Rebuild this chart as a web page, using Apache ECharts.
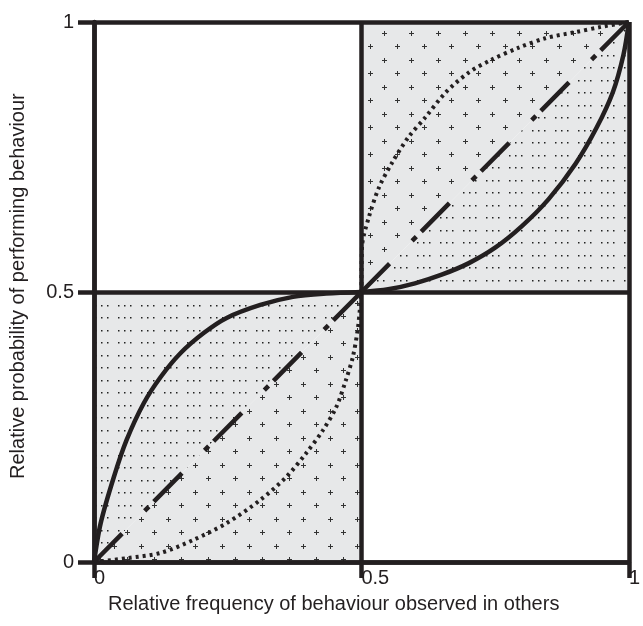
<!DOCTYPE html>
<html><head><meta charset="utf-8">
<script src="https://cdn.jsdelivr.net/npm/echarts@6/dist/echarts.min.js"></script>
<style>html,body{margin:0;padding:0;background:#fff}#c{width:643px;height:626px}</style>
</head><body><div id="c"></div>
<script>
// ---- data ----
const xTickValues = [0, 0.5, 1];
const xTickLabels = ['0', '0.5', '1'];
const yTickValues = [0, 0.5, 1];
const yTickLabels = ['0', '0.5', '1'];
const xTitle = 'Relative frequency of behaviour observed in others';
const yTitle = 'Relative probability of performing behaviour';

const solidLower = [[0,0],[0.0125,0.072],[0.037,0.157],[0.061,0.226],[0.093,0.294],[0.125,0.343],[0.162,0.387],[0.205,0.424],[0.248,0.452],[0.311,0.476],[0.372,0.491],[0.434,0.497],[0.5,0.5]];
const solidUpper = [[0.5,0.5],[0.55,0.505],[0.6,0.516],[0.65,0.532],[0.7,0.553],[0.75,0.582],[0.8,0.622],[0.85,0.672],[0.9,0.737],[0.94,0.805],[0.97,0.870],[0.99,0.94],[1,1]];
const dottedLower = [[0,0],[0.061,0.007],[0.125,0.017],[0.186,0.041],[0.248,0.072],[0.311,0.115],[0.359,0.157],[0.397,0.202],[0.428,0.244],[0.453,0.287],[0.471,0.337],[0.484,0.380],[0.493,0.430],[0.497,0.467],[0.5,0.5]];
const dottedUpper = [[0.5,0.5],[0.501,0.583],[0.514,0.639],[0.533,0.694],[0.557,0.739],[0.588,0.787],[0.620,0.824],[0.657,0.869],[0.700,0.906],[0.743,0.930],[0.793,0.952],[0.844,0.970],[0.899,0.981],[0.948,0.991],[1,1]];
const diagLower = [[0,0],[0.5,0.5]];
const diagUpper = [[0.5,0.5],[1,1]];
// shaded triangles (x1,y1,x2,y2,x3,y3)
const dotRegions = [[0,0, 0,0.5, 0.5,0.5],[0.5,0.5, 1,0.5, 1,1]];
const plusRegions = [[0,0, 0.5,0, 0.5,0.5],[0.5,0.5, 0.5,1, 1,1]];

// ---- styling ----
const INK = '#231f20';
const FILL = '#e7e8e9';
const FONT = 'Liberation Sans, Arial, sans-serif';

function plusTile(){
  const c = document.createElement('canvas'); c.width = 27; c.height = 27;
  const g = c.getContext('2d');
  g.fillStyle = FILL; g.fillRect(0,0,27,27);
  g.fillStyle = '#333';
  [[6,6],[19,19]].forEach(([x,y])=>{ g.fillRect(x-2,y,5,1); g.fillRect(x,y-2,1,5); });
  return c;
}
function dotTile(){
  const c = document.createElement('canvas'); c.width = 23; c.height = 25;
  const g = c.getContext('2d');
  g.fillStyle = FILL; g.fillRect(0,0,23,25);
  g.fillStyle = '#222';
  [5,17].forEach(y=>[3,9,15].forEach(x=>g.fillRect(x,y,1.5,1.5)));
  return c;
}
const PLUS = plusTile(), DOTS = dotTile();

function regionSeries(regions, tile){
  return {
    type:'custom', silent:true, z:-1, data: regions,
    encode:{x:[0,2,4], y:[1,3,5]},
    renderItem:(params, api)=>{
      const pts = [0,1,2].map(i=>api.coord([api.value(2*i), api.value(2*i+1)]));
      return {type:'polygon', shape:{points:pts}, style:{fill:{image:tile, repeat:'repeat'}, stroke:null}};
    }
  };
}
function curve(data, type, width){
  return {type:'line', data, symbol:'none', smooth:0.3, silent:true, z:3,
    lineStyle:{color:INK, width, type, cap:'butt'}};
}
const dashDot = [40, 32, 6, 7];

const chart = echarts.init(document.getElementById('c'));
chart.setOption({
  animation:false,
  grid:{left:94, right:12, top:22, bottom:64},
  xAxis:{type:'value', min:0, max:1, interval:0.5,
    axisLine:{lineStyle:{color:INK, width:4.5}},
    axisTick:{show:true, length:16, lineStyle:{color:INK, width:4.5}},
    splitLine:{show:true, lineStyle:{color:INK, width:4.5}},
    axisLabel:{formatter:v=>xTickLabels[xTickValues.indexOf(v)], align:'left', margin:6,
      fontSize:20, color:INK, fontFamily:FONT}},
  yAxis:{type:'value', min:0, max:1, interval:0.5,
    axisLine:{lineStyle:{color:INK, width:4.5}},
    axisTick:{show:true, length:16, lineStyle:{color:INK, width:4.5}},
    splitLine:{show:true, lineStyle:{color:INK, width:4.5}},
    axisLabel:{formatter:v=>yTickLabels[yTickValues.indexOf(v)], align:'right', verticalAlign:'middle', padding:[0,0,8,0], margin:20,
      fontSize:20, color:INK, fontFamily:FONT}},
  graphic:[
    {type:'text', left:108, top:594, style:{text:xTitle, font:'20px '+FONT, fill:INK}},
    {type:'text', x:8, y:479, rotation:Math.PI/2, style:{text:yTitle, font:'20px '+FONT, fill:INK, textAlign:'left', textVerticalAlign:'top'}}
  ],
  series:[
    regionSeries(dotRegions, DOTS),
    regionSeries(plusRegions, PLUS),
    curve(solidLower, 'solid', 4.5),
    curve(solidUpper, 'solid', 4.5),
    curve(dottedLower, [3,4], 4),
    curve(dottedUpper, [3,4], 4),
    {type:'line', data:diagLower, symbol:'none', silent:true, z:3, lineStyle:{color:INK, width:4.5, type:dashDot, cap:'butt'}},
    {type:'line', data:diagUpper, symbol:'none', silent:true, z:3, lineStyle:{color:INK, width:4.5, type:dashDot, cap:'butt'}}
  ]
});
</script></body></html>
